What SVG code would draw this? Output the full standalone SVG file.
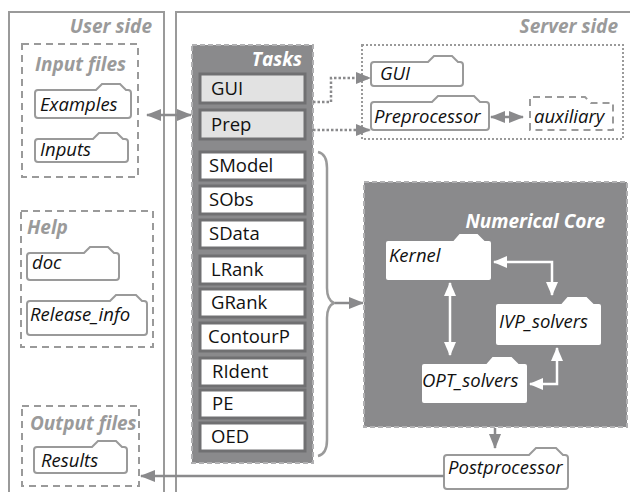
<svg xmlns="http://www.w3.org/2000/svg" width="630" height="492" viewBox="0 0 630 492">
<defs>
<style>
.frame{fill:none;stroke:#9a9a9a;stroke-width:2}
.dash{fill:none;stroke:#9a9a9a;stroke-width:2;stroke-dasharray:7 5}
.dot{fill:none;stroke:#9a9a9a;stroke-width:2;stroke-dasharray:2 2}
.folder{fill:#fff;stroke:#9a9a9a;stroke-width:2}
.cfolder{fill:#fff;stroke:#8a8a8c;stroke-width:2}
.dfolder{fill:#fff;stroke:#9a9a9a;stroke-width:2;stroke-dasharray:7 5}
.dark{fill:#8a8a8c;stroke:#b0b0b2;stroke-width:2;stroke-dasharray:5 3}
.task{fill:#fff;stroke:#707072;stroke-width:3}
.taskg{fill:#e2e2e2;stroke:#707072;stroke-width:3}
.ttl{font-family:"Open Sans","DejaVu Sans",sans-serif;font-weight:bold;font-style:italic;font-size:19px;fill:#9a9a9a}
.wttl{font-family:"Open Sans","DejaVu Sans",sans-serif;font-weight:bold;font-style:italic;font-size:19px;fill:#fff}
.lbl{font-family:"Open Sans","DejaVu Sans",sans-serif;font-style:italic;font-size:18.5px;fill:#111}
.tl{font-family:"Open Sans","DejaVu Sans",sans-serif;font-size:18.5px;fill:#111}
.conn{fill:none;stroke:#8a8a8c;stroke-width:2.5}
.connd{fill:none;stroke:#8a8a8c;stroke-width:2.5;stroke-dasharray:2.5 2}
.wconn{fill:none;stroke:#fff;stroke-width:2.5}
</style>
<marker id="ag" markerUnits="userSpaceOnUse" markerWidth="15" markerHeight="12" viewBox="0 0 15 12" refX="14" refY="6" orient="auto-start-reverse"><path d="M0,0 L15,6 L0,12 z" fill="#8a8a8c"/></marker>
<marker id="aw" markerUnits="userSpaceOnUse" markerWidth="14" markerHeight="12" viewBox="0 0 14 12" refX="13" refY="6" orient="auto-start-reverse"><path d="M0,0 L14,6 L0,12 z" fill="#fff"/></marker>
</defs>

<g id="user-side">
<rect class="frame" x="9" y="12" width="155" height="490"/>
<text class="ttl" x="152" y="33" text-anchor="end">User side</text>
</g>
<g id="server-side">
<rect class="frame" x="176" y="12" width="470" height="490"/>
<text class="ttl" x="618" y="33" text-anchor="end">Server side</text>
</g>

<g id="input-files">
<rect class="dash" x="22" y="44" width="116" height="133"/>
<text class="ttl" x="35" y="71">Input files</text>
</g>
<g id="examples">
<path class="folder" d="M35,115 V93 Q35,90 38,90 H96 L102,84 H120 L126,90 H128 Q131,90 131,93 V115 Q131,118 128,118 H38 Q35,118 35,115 Z"/>
<text class="lbl" x="40" y="111">Examples</text>
</g>
<g id="inputs">
<path class="folder" d="M35,159 V142 Q35,139 38,139 H93 L99,133 H117 L123,139 H125 Q128,139 128,142 V159 Q128,162 125,162 H38 Q35,162 35,159 Z"/>
<text class="lbl" x="40" y="156">Inputs</text>
</g>

<g id="help">
<rect class="dash" x="21" y="211" width="132" height="136"/>
<text class="ttl" x="27" y="234">Help</text>
</g>
<g id="doc">
<path class="folder" d="M27,277 V256 Q27,253 30,253 H84 L90,247 H108 L114,253 H116 Q119,253 119,256 V277 Q119,280 116,280 H30 Q27,280 27,277 Z"/>
<text class="lbl" x="32" y="269">doc</text>
</g>
<g id="release-info">
<path class="folder" d="M27,332 V304 Q27,301 30,301 H110 L116,295 H136 L142,301 H144 Q147,301 147,304 V332 Q147,335 144,335 H30 Q27,335 27,332 Z"/>
<text class="lbl" x="30" y="321">Release_info</text>
</g>

<g id="output-files">
<rect class="dash" x="22" y="406" width="117" height="80"/>
<text class="ttl" x="30" y="430">Output files</text>
</g>
<g id="results">
<path class="folder" d="M34,470 V450 Q34,447 37,447 H92 L98,441 H116 L122,447 H124 Q127,447 127,450 V470 Q127,473 124,473 H37 Q34,473 34,470 Z"/>
<text class="lbl" x="41" y="467">Results</text>
</g>

<g id="tasks">
<rect class="dark" x="192" y="45" width="121" height="418"/>
<text class="wttl" x="302" y="66" text-anchor="end">Tasks</text>
</g>
<g id="task-gui"><rect class="taskg" x="200" y="74" width="105" height="29"/><text class="tl" x="211" y="95">GUI</text></g>
<g id="task-prep"><rect class="taskg" x="200" y="110" width="105" height="29"/><text class="tl" x="211" y="131">Prep</text></g>
<g id="task-smodel"><rect class="task" x="200" y="152" width="105" height="28"/><text class="tl" x="209" y="172">SModel</text></g>
<g id="task-sobs"><rect class="task" x="200" y="186" width="105" height="28"/><text class="tl" x="209" y="206">SObs</text></g>
<g id="task-sdata"><rect class="task" x="200" y="220" width="105" height="28"/><text class="tl" x="209" y="240">SData</text></g>
<g id="task-lrank"><rect class="task" x="200" y="256" width="105" height="28"/><text class="tl" x="211" y="276">LRank</text></g>
<g id="task-grank"><rect class="task" x="200" y="289" width="105" height="28"/><text class="tl" x="211" y="309">GRank</text></g>
<g id="task-contourp"><rect class="task" x="200" y="323" width="105" height="28"/><text class="tl" x="208" y="343">ContourP</text></g>
<g id="task-rident"><rect class="task" x="200" y="358" width="105" height="28"/><text class="tl" x="212" y="378">RIdent</text></g>
<g id="task-pe"><rect class="task" x="200" y="390" width="105" height="28"/><text class="tl" x="212" y="410">PE</text></g>
<g id="task-oed"><rect class="task" x="200" y="423" width="105" height="28"/><text class="tl" x="211" y="443">OED</text></g>

<g id="server-frontend">
<rect class="dot" x="362" y="45" width="261" height="94"/>
</g>
<g id="gui">
<path class="folder" d="M371,83 V65 Q371,62 374,62 H428 L434,56 H452 L458,62 H460 Q463,62 463,65 V83 Q463,86 460,86 H374 Q371,86 371,83 Z"/>
<text class="lbl" x="380" y="80">GUI</text>
</g>
<g id="preprocessor">
<path class="folder" d="M371,127 V105 Q371,102 374,102 H432 L438,96 H474 L480,102 H486 Q489,102 489,105 V127 Q489,130 486,130 H374 Q371,130 371,127 Z"/>
<text class="lbl" x="374" y="123">Preprocessor</text>
</g>
<g id="auxiliary">
<path class="dfolder" d="M530,130 V97 H585 L591,103 H613 V130 Z"/>
<text class="lbl" x="534" y="123">auxiliary</text>
</g>

<g id="numerical-core">
<rect class="dark" x="364" y="182" width="263" height="245"/>
<text class="wttl" x="605" y="228" text-anchor="end">Numerical Core</text>
</g>
<g id="kernel">
<path class="cfolder" d="M385,278 V243 Q385,240 388,240 H453 L459,233 H478 L485,240 H489 Q492,240 492,243 V278 Q492,281 489,281 H388 Q385,281 385,278 Z"/>
<text class="lbl" x="389" y="262">Kernel</text>
</g>
<g id="ivp-solvers">
<path class="cfolder" d="M495,343 V306 Q495,303 498,303 H561 L567,296 H587 L594,303 H599 Q602,303 602,306 V343 Q602,346 599,346 H498 Q495,346 495,343 Z"/>
<text class="lbl" x="499" y="328">IVP_solvers</text>
</g>
<g id="opt-solvers">
<path class="cfolder" d="M421,401 V366 Q421,363 424,363 H486 L492,356 H512 L519,363 H525 Q528,363 528,366 V401 Q528,404 525,404 H424 Q421,404 421,401 Z"/>
<text class="lbl" x="422" y="387">OPT_solvers</text>
</g>
<g id="postprocessor">
<path class="folder" d="M444,486 V458 Q444,455 447,455 H529 L536,448 H556 L563,455 H565 Q568,455 568,458 V486 Q568,489 565,489 H447 Q444,489 444,486 Z"/>
<text class="lbl" x="448" y="474">Postprocessor</text>
</g>

<g id="connectors">
<path class="conn" d="M147,115 H191" marker-start="url(#ag)" marker-end="url(#ag)"/>
<path class="connd" d="M313,102 H331 V78 H370" marker-end="url(#ag)"/>
<path class="connd" d="M313,130 H370" marker-end="url(#ag)"/>
<path class="conn" d="M491,117 H523" marker-start="url(#ag)" marker-end="url(#ag)"/>
<path fill="none" stroke="#9a9a9a" stroke-width="2.5" d="M318,152 Q327,154 327,168 V288 Q327,300 334,303 Q327,306 327,318 V440 Q327,454 318,456"/>
<path class="conn" d="M335,303 H363" marker-end="url(#ag)"/>
<path class="wconn" d="M450,283 V355" marker-start="url(#aw)" marker-end="url(#aw)"/>
<path class="wconn" d="M494,262 H552 V295" marker-start="url(#aw)" marker-end="url(#aw)"/>
<path class="wconn" d="M530,384 H557 V348" marker-start="url(#aw)" marker-end="url(#aw)"/>
<path class="conn" d="M495,428 V448" marker-end="url(#ag)"/>
<path class="conn" d="M444,476 H141" marker-end="url(#ag)"/>
</g>
</svg>
